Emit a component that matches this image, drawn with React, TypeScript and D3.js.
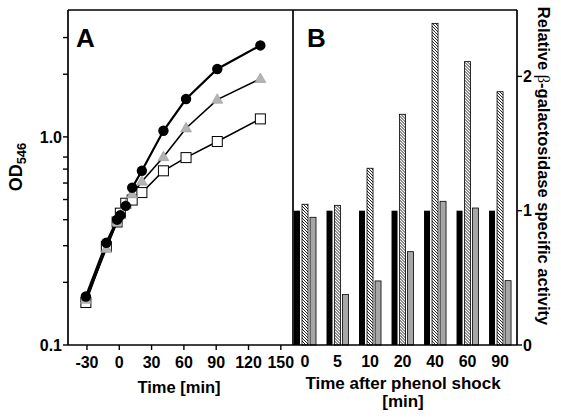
import React from "react";
import * as d3 from "d3";

// ---- Panel A data (OD546 vs time) ----
const timeA = [-31, -12, -2, 1, 6, 12, 21, 41, 62, 91, 131];
const odCircles = [0.171, 0.31, 0.4, 0.42, 0.466, 0.57, 0.687, 1.07, 1.52, 2.12, 2.75];
const odTriangles = [0.165, 0.29, 0.39, 0.42, 0.47, 0.53, 0.61, 0.8, 1.1, 1.51, 1.9];
const odSquares = [0.16, 0.297, 0.39, 0.43, 0.48, 0.497, 0.54, 0.687, 0.795, 0.95, 1.22];
const xTicksA = [-30, 0, 30, 60, 90, 120, 150];
const yMajorA = [0.1, 1.0];
const yMinorA = [0.2, 0.3, 0.4, 0.5, 0.6, 0.7, 0.8, 2, 3];

// ---- Panel B data (relative beta-galactosidase activity) ----
const catsB = ["0", "5", "10", "20", "40", "60", "90"];
const seriesKeys = ["black", "hatched", "gray"];
const barBlack = [1, 1, 1, 1, 1, 1, 1];
const barHatched = [1.048, 1.04, 1.316, 1.718, 2.395, 2.11, 1.886];
const barGray = [0.951, 0.377, 0.477, 0.695, 1.07, 1.02, 0.479];
const yTicksB = [0, 1, 2];

const FONT = "'Liberation Sans', Arial, sans-serif";

export default function App() {
  const W = 561, H = 418;
  const left = 68, mid = 293, right = 517, top = 10, bottom = 345;

  const xA = d3.scaleLinear().domain([-47.6, 161.3]).range([left, mid]);
  const yA = d3.scaleLog().domain([0.1, 4.07]).range([bottom, top]);

  const yB = d3.scaleLinear().domain([0, 2.5]).range([bottom, 9.25]);
  const x0 = d3.scaleBand().domain(catsB).range([mid, right]).paddingInner(0.323).paddingOuter(0.107).align(0.145);
  const x1 = d3.scaleBand().domain(seriesKeys).range([0, x0.bandwidth()]).paddingInner(0.25);

  const line = d3.line<number>().x((_, i) => xA(timeA[i])).y((d) => yA(d));

  const barData = [barBlack, barHatched, barGray];
  const barFill = ["#000", "url(#hatch)", "#a6a6a6"];

  const tri = (cx: number, cy: number, s = 11) => {
    const h = s * 0.87;
    return `M${cx},${cy - h * 0.62}L${cx + s / 2},${cy + h * 0.38}L${cx - s / 2},${cy + h * 0.38}Z`;
  };

  return (
    <svg width={W} height={H} style={{ position: "absolute", left: 0, top: 0, background: "#fff" }} fontFamily={FONT}>
      <defs>
        <pattern id="hatch" patternUnits="userSpaceOnUse" width={3} height={3}>
          <rect width={3} height={3} fill="#fff" />
          <path d="M-1,-1L4,4M-1,2L1,4M2,-1L4,1" stroke="#222" strokeWidth={1} />
        </pattern>
      </defs>

      {/* Panel A series */}
      <path d={line(odSquares) || ""} fill="none" stroke="#000" strokeWidth={1.6} />
      <path d={line(odTriangles) || ""} fill="none" stroke="#000" strokeWidth={1.6} />
      <path d={line(odCircles) || ""} fill="none" stroke="#000" strokeWidth={2.2} />
      {odSquares.map((v, i) => (
        <rect key={"s" + i} x={xA(timeA[i]) - 5} y={yA(v) - 5} width={10} height={10} fill="#fff" stroke="#000" strokeWidth={1} />
      ))}
      {odTriangles.map((v, i) => (
        <path key={"t" + i} d={tri(xA(timeA[i]), yA(v))} fill="#b3b3b3" stroke="#9a9a9a" strokeWidth={0.6} />
      ))}
      {odCircles.map((v, i) => (
        <circle key={"c" + i} cx={xA(timeA[i])} cy={yA(v)} r={5.2} fill="#000" />
      ))}

      {/* Panel B bars */}
      {catsB.map((c, ci) => (
        <g key={c} transform={`translate(${x0(c)},0)`}>
          {seriesKeys.map((k, si) => {
            const v = barData[si][ci];
            return (
              <rect
                key={k}
                x={x1(k)}
                y={yB(v)}
                width={x1.bandwidth()}
                height={yB(0) - yB(v)}
                fill={barFill[si]}
                stroke="#000"
                strokeWidth={si === 0 ? 0 : 0.8}
              />
            );
          })}
        </g>
      ))}

      {/* Frame */}
      <g fill="none" stroke="#000" strokeWidth={1.7}>
        <line x1={left} x2={right} y1={top} y2={top} />
        <line x1={left} x2={right} y1={bottom} y2={bottom} />
        <line x1={left} x2={left} y1={top} y2={bottom} />
        <line x1={mid} x2={mid} y1={top} y2={bottom} />
        <line x1={right} x2={right} y1={top} y2={bottom} />
      </g>

      {/* Ticks */}
      <g stroke="#000" strokeWidth={1.4}>
        {yMajorA.concat(yMinorA).map((t) => (
          <line key={t} x1={left - 5} x2={left} y1={yA(t)} y2={yA(t)} />
        ))}
        {xTicksA.map((t) => (
          <line key={t} x1={xA(t)} x2={xA(t)} y1={bottom} y2={bottom + 5} />
        ))}
        {yTicksB.map((t) => (
          <line key={t} x1={right} x2={right + 5} y1={yB(t)} y2={yB(t)} />
        ))}
      </g>
      <g fontSize={16} fontWeight="bold" fill="#000">
        {yMajorA.map((t) => (
          <text key={t} x={left - 6} y={yA(t)} dy="0.36em" textAnchor="end">
            {d3.format(".1f")(t)}
          </text>
        ))}
        {xTicksA.map((t) => (
          <text key={t} x={xA(t)} y={368} textAnchor="middle">
            {t}
          </text>
        ))}
        {catsB.map((c) => (
          <text key={c} x={(x0(c) || 0) + x0.bandwidth() / 2} y={367} textAnchor="middle">
            {c}
          </text>
        ))}
        {yTicksB.map((t) => (
          <text key={t} x={right + 6} y={yB(t)} dy="0.36em" textAnchor="start">
            {t}
          </text>
        ))}
      </g>

      {/* Titles & labels */}
      <g fontWeight="bold" fill="#000">
        <text x={76} y={47} fontSize={26}>A</text>
        <text x={307} y={47} fontSize={26}>B</text>
        <text transform="translate(22,167) rotate(-90)" textAnchor="middle" fontSize={18}>
          OD<tspan fontSize={13} dy={4}>546</tspan>
        </text>
        <text x={179} y={393} textAnchor="middle" fontSize={16.5}>Time [min]</text>
        <text x={403} y={389} textAnchor="middle" fontSize={17}>Time after phenol shock</text>
        <text x={403} y={407} textAnchor="middle" fontSize={17}>[min]</text>
        <text transform="translate(538,166) rotate(90)" textAnchor="middle" fontSize={16.5}>
          Relative <tspan fontWeight="normal" fontFamily="'Liberation Serif', serif">β</tspan>-galactosidase specific activity
        </text>
      </g>
    </svg>
  );
}
